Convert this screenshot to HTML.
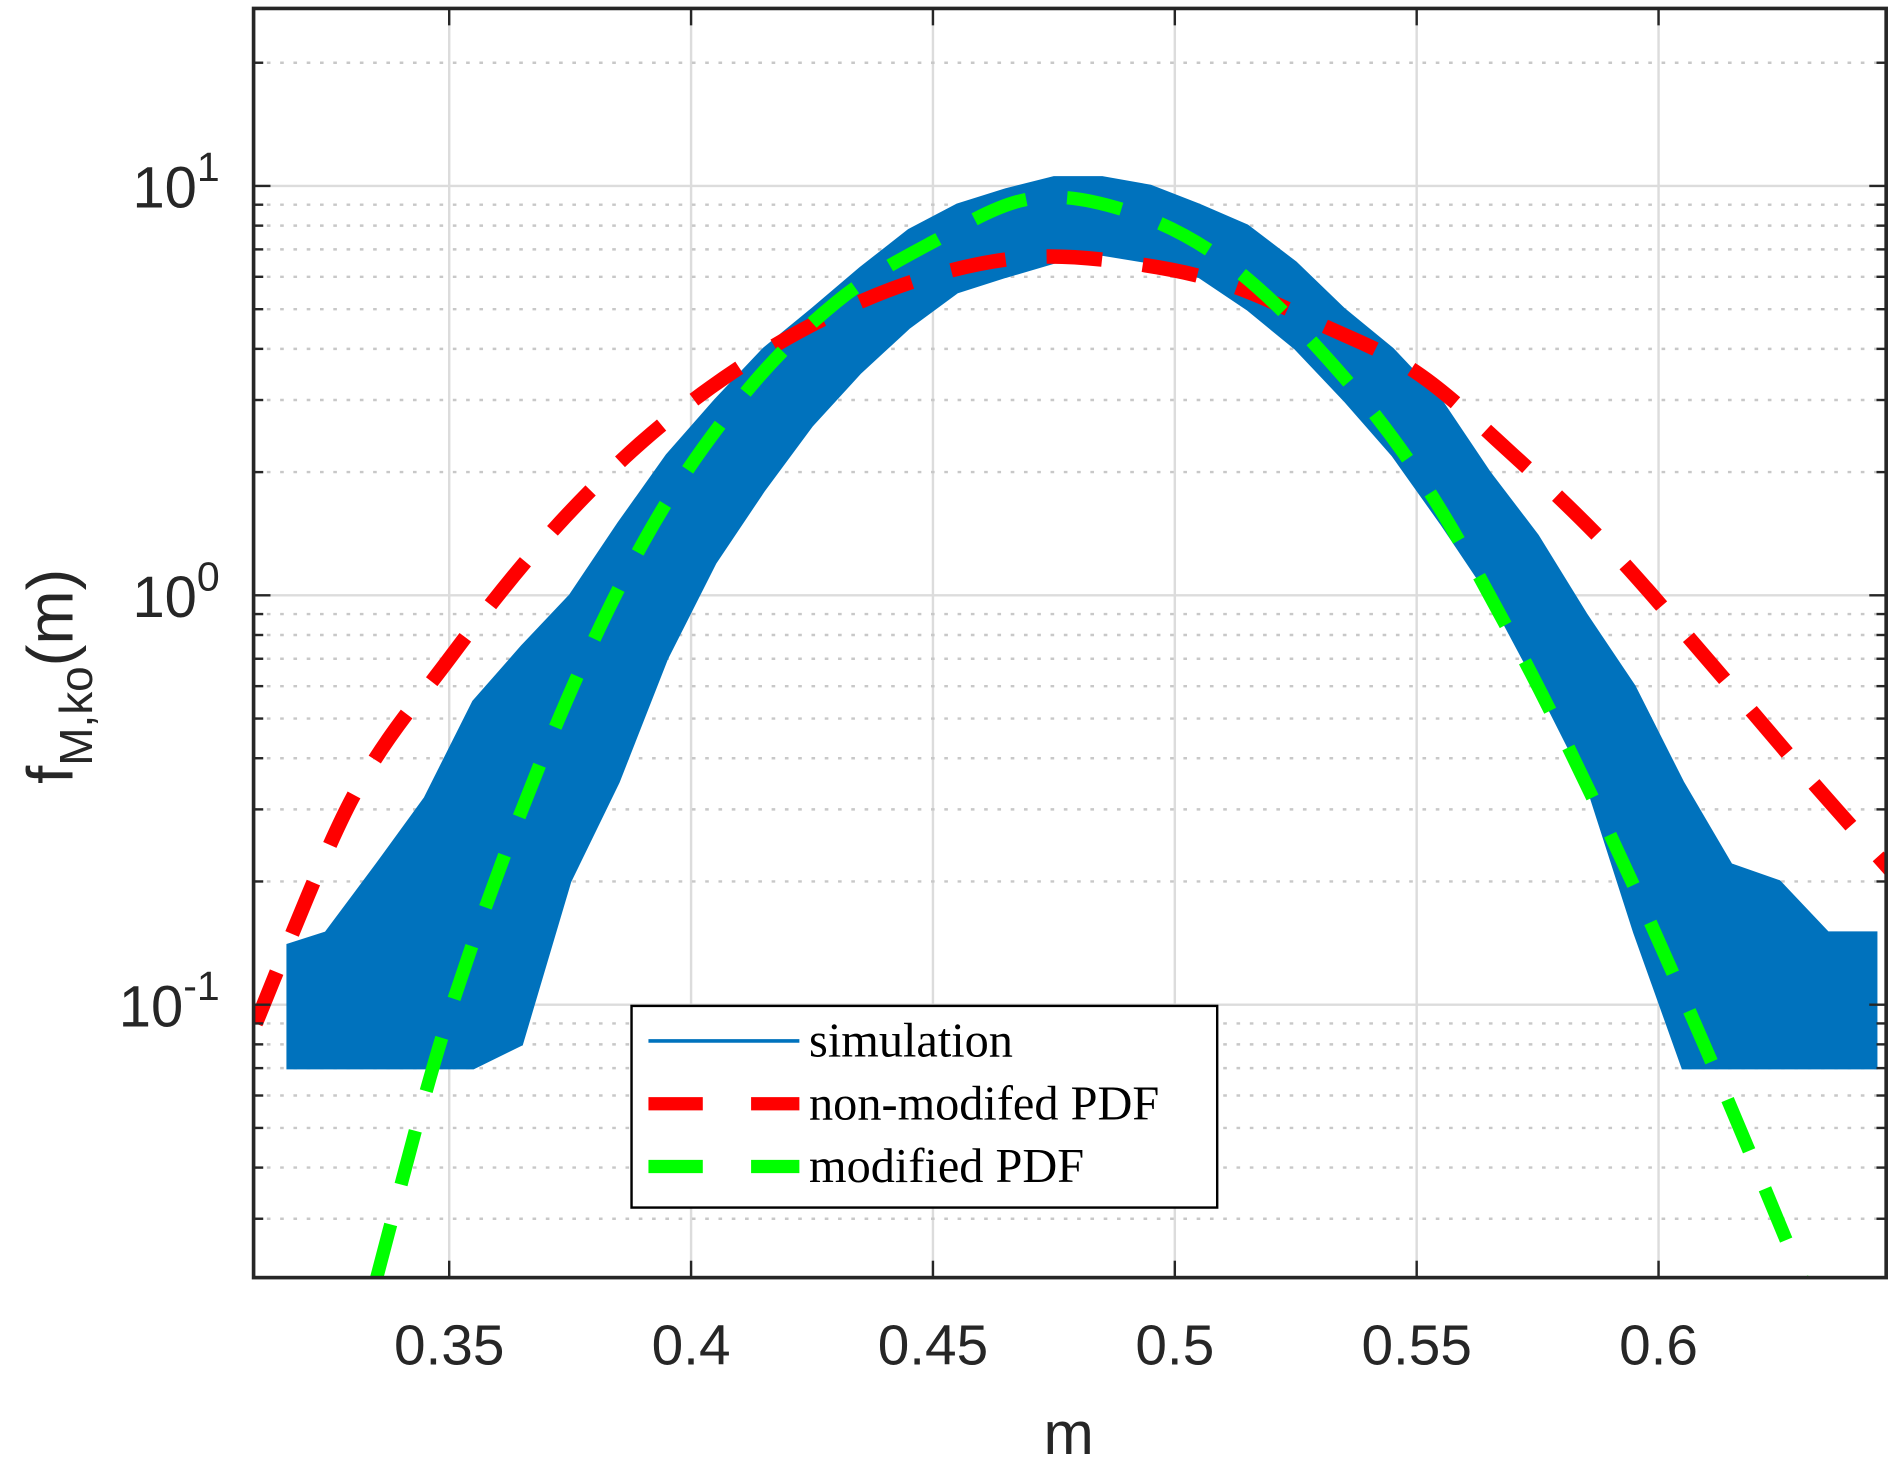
<!DOCTYPE html>
<html><head><meta charset="utf-8"><style>
html,body{margin:0;padding:0;background:#fff;}
svg{display:block;}
text{font-family:"Liberation Sans",Arial,sans-serif;fill:#262626;}
.serif{font-family:"Liberation Serif","DejaVu Serif",serif;fill:#000;}
</style></head><body>
<svg id="chart" width="1891" height="1462" viewBox="0 0 1566 1210.7" preserveAspectRatio="none" xmlns="http://www.w3.org/2000/svg">
<defs><clipPath id="pc"><rect x="210" y="7" width="1352" height="1051"/></clipPath></defs>
<g id="grid"></g>
<g id="series" clip-path="url(#pc)"></g>
<g id="axes"></g>
<text x="885" y="1204" font-size="50" text-anchor="middle">m</text>
<text transform="translate(60,560) rotate(-90)" font-size="54" text-anchor="middle">f<tspan font-size="38" dy="16">M,ko</tspan><tspan dy="-16">(m)</tspan></text>
<g>
<rect x="523" y="833" width="485" height="167" fill="#fff" stroke="#000" stroke-width="2"/>
<line x1="537" y1="862" x2="662" y2="862" stroke="#0072bd" stroke-width="3"/>
<text class="serif" x="670" y="875" font-size="40">simulation</text>
<line x1="537" y1="914" x2="662" y2="914" stroke="#ff0000" stroke-width="11" stroke-dasharray="45,40"/>
<text class="serif" x="670" y="927" font-size="40">non-modifed PDF</text>
<line x1="537" y1="966" x2="662" y2="966" stroke="#00ff00" stroke-width="11" stroke-dasharray="45,40"/>
<text class="serif" x="670" y="979" font-size="40">modified PDF</text>
</g>
</svg>
<script>
const xTicks=[0.35,0.4,0.45,0.5,0.55,0.6];
const xTickLabels=["0.35","0.4","0.45","0.5","0.55","0.6"];
const yDecades=[-1,0,1];
const simM=[0.3166,0.3245,0.335,0.345,0.355,0.365,0.375,0.385,0.395,0.405,0.415,0.425,0.435,0.445,0.455,0.465,0.475,0.485,0.495,0.505,0.515,0.525,0.535,0.545,0.555,0.565,0.575,0.585,0.595,0.605,0.615,0.625,0.635,0.645];
const simUpper=[0.14,0.15,0.22,0.32,0.55,0.75,1.0,1.5,2.2,3.0,4.0,5.0,6.3,7.8,9.0,9.8,10.5,10.5,10,9.0,8,6.5,5,4,3,2,1.4,0.9,0.6,0.35,0.22,0.2,0.15,0.15];
const simLower=[0.07,0.07,0.07,0.07,0.07,0.08,0.2,0.35,0.7,1.2,1.8,2.6,3.5,4.5,5.5,6.0,6.5,6.8,6.5,6,5,4,3,2.2,1.5,1.0,0.6,0.35,0.15,0.07,0.07,0.07,0.07,0.07];
const pdfM=[0.31,0.33,0.35,0.37,0.39,0.41,0.43,0.45,0.47,0.49,0.51,0.53,0.55,0.57,0.59,0.61,0.63,0.65];
const redVals=[0.09,0.32,0.70,1.38,2.38,3.6,4.9,6.05,6.7,6.5,5.8,4.6,3.5,2.2,1.3,0.70,0.37,0.2];
const greenM=[0.335,0.35,0.37,0.39,0.41,0.43,0.45,0.47,0.49,0.51,0.53,0.55,0.57,0.59,0.61,0.63];
const greenVals=[0.0215,0.095,0.42,1.34,3.0,5.2,7.3,9.3,8.7,6.6,3.97,2.0,0.78,0.26,0.077,0.021];

const L=210,R=1562,T=7,B=1058;
const X=m=>372+(m-0.35)/0.05*200.3;
const Y=v=>154-(Math.log10(v)-1)*339;
const NS="http://www.w3.org/2000/svg";
function mk(tag,attrs,parent){const e=document.createElementNS(NS,tag);for(const k in attrs)e.setAttribute(k,attrs[k]);parent.appendChild(e);return e;}
const grid=document.getElementById('grid'),axes=document.getElementById('axes'),series=document.getElementById('series');

xTicks.forEach((t,i)=>{
  const gl=mk('line',{x1:X(t),x2:X(t),y1:T,y2:B,stroke:'#dcdcdc','stroke-width':2},grid);
  
  
  mk('line',{x1:X(t),x2:X(t),y1:B,y2:B-14,stroke:'#262626','stroke-width':2},axes);
  mk('line',{x1:X(t),x2:X(t),y1:T,y2:T+14,stroke:'#262626','stroke-width':2},axes);
  const tx=mk('text',{x:X(t),y:1130,'font-size':47,'text-anchor':'middle'},axes);
  tx.textContent=xTickLabels[i];
  
  
});
for(let d=-2;d<=1;d++){
  for(let k=1;k<=9;k++){
    const v=k*Math.pow(10,d),y=Y(v);
    if(y<T||y>B)continue;
    const gl=mk('line',{x1:L,x2:R,y1:y,y2:y,stroke:k===1?'#dcdcdc':'#c8c8c8','stroke-width':2,'stroke-dasharray':k===1?'':'3,8'},grid);
    
    
    const tl=k===1?14:8;
    mk('line',{x1:L,x2:L+tl,y1:y,y2:y,stroke:'#262626','stroke-width':2},axes);
    mk('line',{x1:R,x2:R-tl,y1:y,y2:y,stroke:'#262626','stroke-width':2},axes);
  }
}
yDecades.forEach(d=>{
  const t=mk('text',{x:182,y:Y(Math.pow(10,d))+18,'font-size':48,'text-anchor':'end'},axes);
  t.innerHTML='10<tspan font-size="34" dy="-22">'+d+'</tspan>';
  
  
});
const box=mk('rect',{x:L,y:T,width:R-L,height:B-T,fill:'none',stroke:'#262626','stroke-width':3},axes);



let pts=simM.map((m,i)=>X(m)+','+Y(simUpper[i]));
for(let i=simM.length-1;i>=0;i--)pts.push(X(simM[i])+','+Y(simLower[i]));
const band=mk('polygon',{points:pts.join(' '),fill:'#0072bd',stroke:'#0072bd','stroke-width':2},series);



function smoothPath(ms,vs){
  const p=ms.map((m,i)=>[X(m),Y(vs[i])]);
  let d='M'+p[0][0]+','+p[0][1];
  for(let i=0;i<p.length-1;i++){
    const p0=p[Math.max(0,i-1)],p1=p[i],p2=p[i+1],p3=p[Math.min(p.length-1,i+2)];
    d+=' C'+(p1[0]+(p2[0]-p0[0])/6)+','+(p1[1]+(p2[1]-p0[1])/6)+' '+(p2[0]-(p3[0]-p1[0])/6)+','+(p2[1]-(p3[1]-p1[1])/6)+' '+p2[0]+','+p2[1];
  }
  return d;
}
const red=mk('path',{d:smoothPath(pdfM,redVals),fill:'none',stroke:'#ff0000','stroke-width':12,'stroke-dasharray':'46,34'},series);


const green=mk('path',{d:smoothPath(greenM,greenVals),fill:'none',stroke:'#00ff00','stroke-width':11,'stroke-dasharray':'46,34'},series);


</script>
</body></html>
